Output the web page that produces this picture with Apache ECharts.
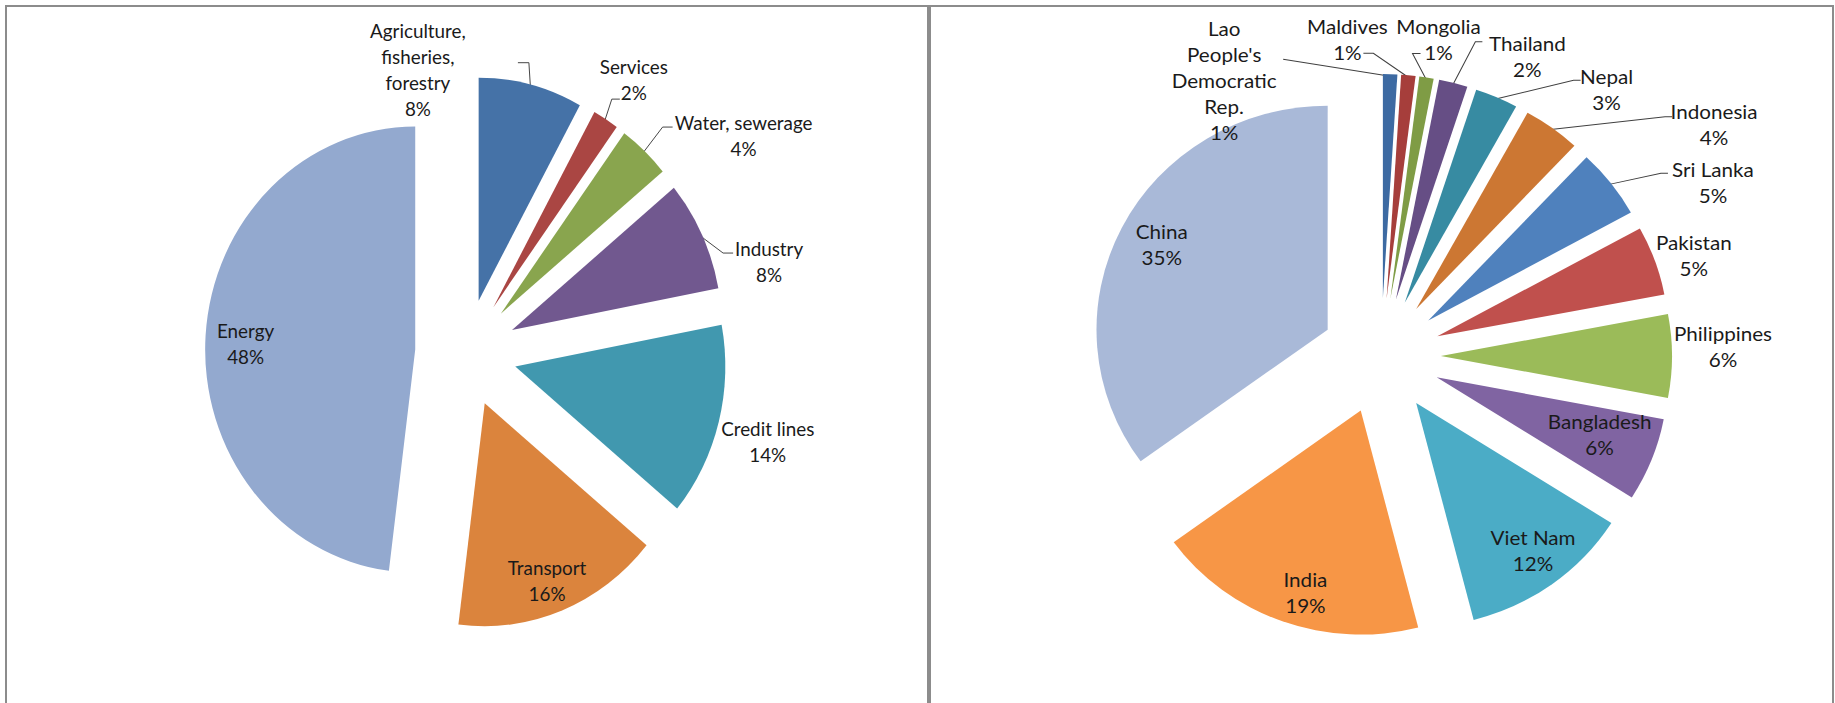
<!DOCTYPE html>
<html>
<head>
<meta charset="utf-8">
<script src="https://cdn.jsdelivr.net/npm/echarts@6/dist/echarts.min.js"></script>
<style>
  html, body { margin: 0; padding: 0; background: #fff; }
  .frame { position: absolute; top: 5px; height: 698px; border: 2px solid #8c8c8c; border-bottom: none; box-sizing: border-box; }
  .plot { position: absolute; top: 0; height: 703px; transform-origin: 0 0; }
</style>
</head>
<body>
<div class="frame" style="left:5px; width:924px;"></div>
<div class="frame" style="left:929px; width:905px;"></div>
<div id="left" class="plot"></div>
<div id="right" class="plot"></div>
<script>
// left pie: share by sector
const sectorNames = ['Agriculture,\nfisheries,\nforestry', 'Services', 'Water, sewerage', 'Industry', 'Credit lines', 'Transport', 'Energy'];
const sectorShares = [8, 2, 4, 8, 14, 16, 48];

// right pie: share by country
const countryNames = ["Lao\nPeople's\nDemocratic\nRep.", 'Maldives', 'Mongolia', 'Thailand', 'Nepal', 'Indonesia', 'Sri Lanka', 'Pakistan', 'Philippines', 'Bangladesh', 'Viet Nam', 'India', 'China'];
const countryShares = [1, 1, 1, 2, 3, 4, 5, 5, 6, 6, 12, 19, 35];

const sectorColors = ['#4572A7', '#AA4643', '#89A54E', '#71588F', '#4198AF', '#DB843D', '#93A9CF'];
const countryColors = ['#3D6AA2', '#A63E3B', '#7F9C45', '#664E85', '#378BA2', '#CC7733', '#4F81BD', '#C0504D', '#9BBB59', '#8064A2', '#4BACC6', '#F79646', '#A9B9D8'];

// label placement (screen px) relative to the outer middle of each exploded slice
// line: [elbow dx, elbow dy, tick length]
const sectorLabelPos = [
  { dx: -113, dy: -15, line: [-2, -22, -11] },
  { dx: 28, dy: -40, line: [6, -20, 8] },
  { dx: 99, dy: -16, line: [18, -24, 10] },
  { dx: 67, dy: 26, line: [21, 18, 10] },
  { dx: 49, dy: 19 },
  { dx: -15, dy: -30 },
  { dx: 40, dy: 8 }
];
const countryLabelPos = [
  { dx: -166, dy: 6, line: [-107, -15, 0] },
  { dx: -61, dy: -36, line: [-35, -22, -10] },
  { dx: 12, dy: -38, line: [-14, -24, 8] },
  { dx: 74, dy: -27, line: [22, -41, 7] },
  { dx: 110, dy: -8, line: [77, -17, 7] },
  { dx: 162, dy: -4, line: [113, -11, 7] },
  { dx: 102, dy: -1, line: [50, -10, 7] },
  { dx: 39, dy: -5 },
  { dx: 51, dy: -10 },
  { dx: -52, dy: -26 },
  { dx: -19, dy: -34 },
  { dx: 23, dy: -29 },
  { dx: 40, dy: 16 }
];

// geometry in screen px; each panel is stretched horizontally by sx
const leftGeo = { center: [466, 353], radius: 223, offset: 54, sx: 0.942, originX: 0, width: 929 };
const rightGeo = { center: [1381, 356], radius: 224, offset: 58, sx: 1.032, originX: 929, width: 906 };

function labelPlacer(values, geo, places) {
  const total = values.reduce((s, v) => s + v, 0);
  let run = 0;
  const mids = values.map(v => {
    const m = (run + v / 2) / total * Math.PI * 2;
    run += v;
    return m;
  });
  const toLocal = (x, y) => [(x - geo.originX) / geo.sx, y];
  return params => {
    const i = params.dataIndex;
    const ux = Math.sin(mids[i]), uy = -Math.cos(mids[i]);
    const reach = geo.radius + geo.offset;
    const ax = geo.center[0] + geo.sx * reach * ux;
    const ay = geo.center[1] + reach * uy;
    const p = places[i];
    const pos = toLocal(ax + p.dx, ay + p.dy);
    const res = { x: pos[0], y: pos[1], align: 'center', verticalAlign: 'middle' };
    if (p.line) {
      const ex = ax + p.line[0], ey = ay + p.line[1];
      res.labelLinePoints = [toLocal(ax - ux * 2, ay - uy * 2), toLocal(ex, ey), toLocal(ex + p.line[2], ey)];
    }
    return res;
  };
}

function makeChart(domId, names, values, colors, geo, places) {
  const el = document.getElementById(domId);
  el.style.left = geo.originX + 'px';
  el.style.width = (geo.width / geo.sx) + 'px';
  el.style.transform = 'scaleX(' + geo.sx + ')';
  const center = [(geo.center[0] - geo.originX) / geo.sx, geo.center[1]];
  const common = {
    type: 'pie',
    center: center,
    radius: geo.radius,
    startAngle: 90,
    clockwise: true,
    avoidLabelOverlap: false,
    percentPrecision: 0,
    silent: true,
    emphasis: { disabled: true }
  };
  const chart = echarts.init(el, null, { renderer: 'svg' });
  chart.setOption({
    backgroundColor: 'transparent',
    animation: false,
    series: [
      // exploded slices
      Object.assign({}, common, {
        selectedMode: 'multiple',
        selectedOffset: geo.offset,
        itemStyle: { borderWidth: 0 },
        label: { show: false },
        labelLine: { show: false },
        data: names.map((name, i) => ({
          name: name,
          value: values[i],
          selected: true,
          itemStyle: { color: colors[i] }
        }))
      }),
      // labels and leader lines
      Object.assign({}, common, {
        itemStyle: { color: 'rgba(0,0,0,0)', borderWidth: 0 },
        label: {
          show: true,
          position: 'outside',
          formatter: '{b}\n{d}%',
          fontFamily: 'Lato',
          fontSize: 20,
          lineHeight: 26,
          color: '#1a1a1a'
        },
        labelLine: {
          show: true,
          length: 5,
          length2: 5,
          lineStyle: { color: '#404040', width: 1 }
        },
        labelLayout: labelPlacer(values, geo, places),
        data: names.map((name, i) => ({
          name: name,
          value: values[i],
          labelLine: { show: !!places[i].line }
        }))
      })
    ]
  });
  return chart;
}

makeChart('left', sectorNames, sectorShares, sectorColors, leftGeo, sectorLabelPos);
makeChart('right', countryNames, countryShares, countryColors, rightGeo, countryLabelPos);
</script>
</body>
</html>
